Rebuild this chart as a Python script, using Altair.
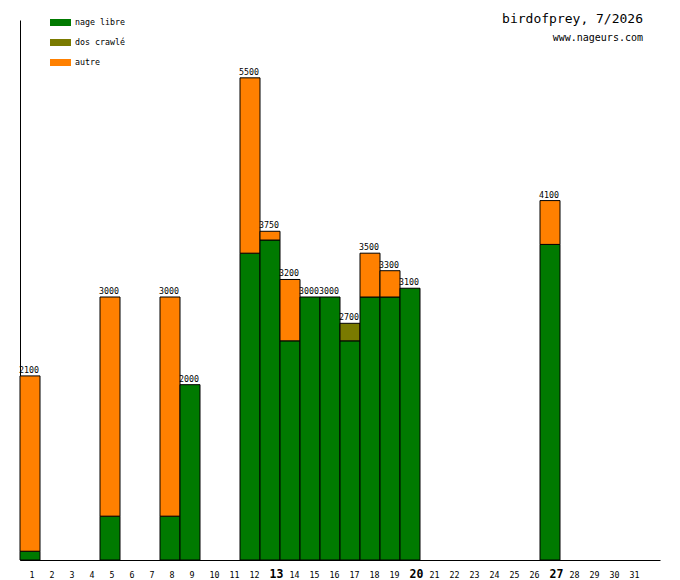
import altair as alt
import pandas as pd

days = list(range(1, 32))
nage_libre = [100, 0, 0, 0, 500, 0, 0, 500, 2000, 0, 0, 3500, 3650, 2500, 3000, 3000,
              2500, 3000, 3000, 3100, 0, 0, 0, 0, 0, 0, 3600, 0, 0, 0, 0]
dos_crawle = [0, 0, 0, 0, 0, 0, 0, 0, 0, 0, 0, 0, 0, 0, 0, 0,
              200, 0, 0, 0, 0, 0, 0, 0, 0, 0, 0, 0, 0, 0, 0]
autre = [2000, 0, 0, 0, 2500, 0, 0, 2500, 0, 0, 0, 2000, 100, 700, 0, 0,
         0, 500, 300, 0, 0, 0, 0, 0, 0, 0, 500, 0, 0, 0, 0]
bold_days = [13, 20, 27]
categories = ["nage libre", "dos crawlé", "autre"]
colors = ["#007a00", "#7a7a00", "#ff8000"]

FONT = "DejaVu Sans Mono"

rows = []
for i, d in enumerate(days):
    base = 0
    for k, (cat, vals) in enumerate(zip(categories, [nage_libre, dos_crawle, autre])):
        if vals[i] > 0:
            rows.append({"day": d, "day_end": d + 1, "cat": cat, "order": k,
                         "y0": base, "y1": base + vals[i]})
            base += vals[i]
df = pd.DataFrame(rows)

totals = pd.DataFrame({
    "day": days,
    "total": [a + b + c for a, b, c in zip(nage_libre, dos_crawle, autre)],
})
totals = totals[totals.total > 0].copy()
totals["mid"] = totals.day + 0.5

xscale = alt.Scale(domain=[1, 33], nice=False, zero=False)
yscale = alt.Scale(domain=[0, 6160], nice=False)

bold_test = "indexof([" + ",".join(str(b) for b in bold_days) + "], floor(datum.value)) >= 0"

xaxis = alt.Axis(
    values=[d + 0.5 for d in days],
    labelExpr="'' + floor(datum.value)",
    ticks=False, grid=False, title=None,
    domainColor="black", domainWidth=1,
    labelFont=FONT,
    labelFontSize={"condition": {"test": bold_test, "value": 11.5}, "value": 8.3},
    labelFontWeight={"condition": {"test": bold_test, "value": "bold"}, "value": "normal"},
    labelAlign="left", labelBaseline="alphabetic", labelPadding=17,
    labelOverlap=False, labelFlush=False, labelBound=False,
    labelColor="black", labelOffset=-1,
)
yaxis = alt.Axis(labels=False, ticks=False, grid=False, title=None,
                 domainColor="black", domainWidth=1)

bars = alt.Chart(df).mark_bar(stroke="black", strokeWidth=1, opacity=1).encode(
    x=alt.X("day:Q", scale=xscale, axis=xaxis),
    x2="day_end:Q",
    y=alt.Y("y0:Q", scale=yscale, axis=yaxis),
    y2="y1:Q",
    color=alt.Color(
        "cat:N",
        scale=alt.Scale(domain=categories, range=colors),
        legend=alt.Legend(
            orient="none", legendX=33.5, legendY=-4.5, title=None,
            symbolType="M-1.5,-0.5H1.5V0.5H-1.5Z", symbolSize=196,
            symbolStrokeWidth=0, symbolOpacity=1,
            labelFont=FONT, labelFontSize=8.3, labelColor="black",
            rowPadding=9, labelOffset=7.5, padding=0,
        ),
    ),
)

labels = alt.Chart(totals).mark_text(
    font=FONT, fontSize=8.3, baseline="bottom", align="center", dx=-1, dy=-1, color="black"
).encode(
    x=alt.X("mid:Q", scale=xscale, axis=xaxis),
    y=alt.Y("total:Q", scale=yscale, axis=yaxis),
    text=alt.Text("total:Q"),
)

chart = alt.layer(bars, labels).properties(
    width=640, height=540,
    autosize=alt.AutoSizeParams(type="none"),
    padding={"left": 12, "top": 12, "right": 12, "bottom": 20},
    background="white",
    title=alt.TitleParams(
        "birdofprey, 7/2026", subtitle="www.nageurs.com",
        anchor="end", font=FONT, fontSize=13, fontWeight="normal", color="black",
        subtitleFont=FONT, subtitleFontSize=10, subtitleColor="black",
        subtitlePadding=7, offset=-27, dx=-17,
    ),
).configure_view(stroke=None).configure_axis(labelOverlap=False)

chart.save("out.html", embed_options={"renderer": "svg", "actions": False})
